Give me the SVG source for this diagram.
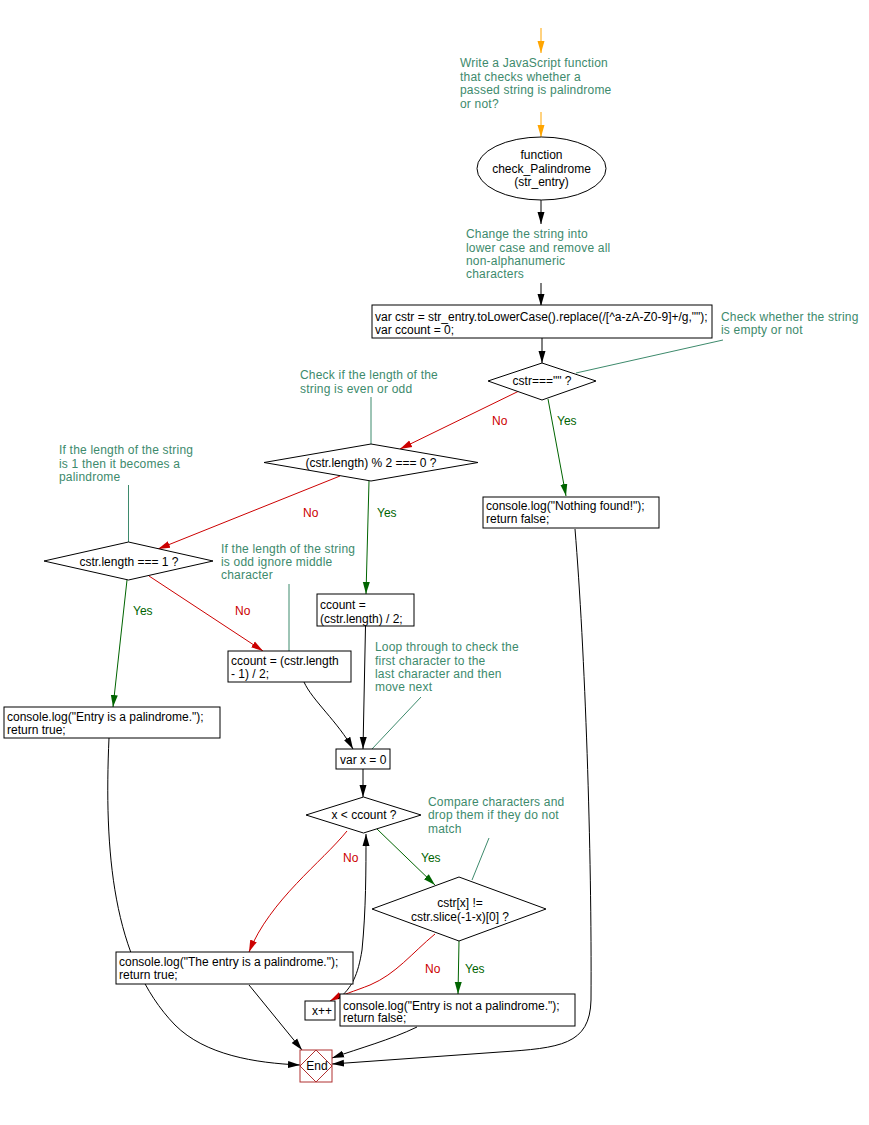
<svg xmlns="http://www.w3.org/2000/svg" width="869" height="1125" viewBox="0 0 869 1125">
<style>
text{font-family:"Liberation Sans",Arial,sans-serif;font-size:12px;fill:#000}
.c{fill:#3d8a6c;letter-spacing:0.2px}
.r{fill:#cc0000}
.g{fill:#006400}
.mid{text-anchor:middle}
.box{fill:#fff;stroke:#000;stroke-width:1}
.cl{fill:none;stroke:#3d8a6c;stroke-width:1}
.bk{fill:none;stroke:#000;stroke-width:1}
.rd{fill:none;stroke:#cc0000;stroke-width:1}
.gr{fill:none;stroke:#006400;stroke-width:1}
.or{fill:none;stroke:#ffa500;stroke-width:1}
</style>
<defs>
<marker id="ab" markerUnits="userSpaceOnUse" markerWidth="12" markerHeight="10" refX="12" refY="5" orient="auto"><path d="M0,1.5 L12,5 L0,8.5 z" fill="#000"/></marker>
<marker id="ar" markerUnits="userSpaceOnUse" markerWidth="12" markerHeight="10" refX="12" refY="5" orient="auto"><path d="M0,1.5 L12,5 L0,8.5 z" fill="#cc0000"/></marker>
<marker id="ag" markerUnits="userSpaceOnUse" markerWidth="12" markerHeight="10" refX="12" refY="5" orient="auto"><path d="M0,1.5 L12,5 L0,8.5 z" fill="#006400"/></marker>
<marker id="ao" markerUnits="userSpaceOnUse" markerWidth="12" markerHeight="10" refX="12" refY="5" orient="auto"><path d="M0,1.5 L12,5 L0,8.5 z" fill="#ffa500"/></marker>
</defs>
<rect width="869" height="1125" fill="#fff"/>

<g id="connectors">
<path class="or" d="M541 28 L541 53" marker-end="url(#ao)"/>
<path class="or" d="M541 112 L541 137" marker-end="url(#ao)"/>
<path class="bk" d="M541 200 L541 224" marker-end="url(#ab)"/>
<path class="bk" d="M541 283 L541 306" marker-end="url(#ab)"/>
<path class="bk" d="M542 338 L542 363" marker-end="url(#ab)"/>
<path class="cl" d="M723 340 L576 373"/>
<path class="rd" d="M519 391 L400 449" marker-end="url(#ar)"/>
<path class="gr" d="M548 399 L566 496" marker-end="url(#ag)"/>
<path class="cl" d="M371 397 L371 444"/>
<path class="rd" d="M340 476 L158 549" marker-end="url(#ar)"/>
<path class="gr" d="M369 481 L366 594" marker-end="url(#ag)"/>
<path class="cl" d="M128.5 485 L128.5 542"/>
<path class="rd" d="M149 576 L263 651" marker-end="url(#ar)"/>
<path class="gr" d="M127 580 L113 707" marker-end="url(#ag)"/>
<path class="cl" d="M289 584 L289 651"/>
<path class="bk" d="M365.5 626 L363 749" marker-end="url(#ab)"/>
<path class="bk" d="M304 682 C 312 700, 338 722, 353 749" marker-end="url(#ab)"/>
<path class="cl" d="M421 697 L372 749"/>
<path class="bk" d="M363 769 L363 797" marker-end="url(#ab)"/>
<path class="gr" d="M377 829 L435 885" marker-end="url(#ag)"/>
<path class="cl" d="M489 838 L472 880"/>
<path class="rd" d="M347 831 C 322 862, 270 900, 249 952" marker-end="url(#ar)"/>
<path class="rd" d="M435 934 C 412 953, 396 974, 370 985 C 355 991, 341 995, 330 1001" marker-end="url(#ar)"/>
<path class="gr" d="M459 941 L458 994" marker-end="url(#ag)"/>
<path class="bk" d="M338 999 C 352 988, 358 975, 362 950 C 366 910, 366 870, 366 834" marker-end="url(#ab)"/>
<path class="bk" d="M109 738 C 104 850, 112 960, 175 1025 C 205 1055, 255 1063, 300 1065" marker-end="url(#ab)"/>
<path class="bk" d="M249 985 L302 1050" marker-end="url(#ab)"/>
<path class="bk" d="M417 1027 C 390 1040, 360 1048, 332 1058" marker-end="url(#ab)"/>
<path class="bk" d="M575 529 C 585 650, 592 850, 591 1000 C 590 1045, 560 1048, 500 1052 L 332 1064" marker-end="url(#ab)"/>
<text class="r" x="492" y="425">No</text>
<text class="g" x="557" y="425">Yes</text>
<text class="r" x="303" y="517">No</text>
<text class="g" x="377" y="517">Yes</text>
<text class="r" x="235" y="615">No</text>
<text class="g" x="133" y="615">Yes</text>
<text class="r" x="343" y="862">No</text>
<text class="g" x="421" y="862">Yes</text>
<text class="r" x="425" y="973">No</text>
<text class="g" x="465" y="973">Yes</text>
</g>

<g id="comment_title">
<text class="c" x="460" y="67">Write a JavaScript function</text>
<text class="c" x="460" y="80.5">that checks whether a</text>
<text class="c" x="460" y="94">passed string is palindrome</text>
<text class="c" x="460" y="107.5">or not?</text>
</g>

<g id="start">
<ellipse cx="541.5" cy="168.5" rx="64.5" ry="31.5" class="box"/>
<text class="mid" x="541.5" y="159">function</text>
<text class="mid" x="541.5" y="172.5">check_Palindrome</text>
<text class="mid" x="541.5" y="186">(str_entry)</text>
</g>

<g id="comment_lower">
<text class="c" x="466" y="238">Change the string into</text>
<text class="c" x="466" y="251.5">lower case and remove all</text>
<text class="c" x="466" y="265">non-alphanumeric</text>
<text class="c" x="466" y="278">characters</text>
</g>

<g id="init">
<rect x="372" y="305" width="340" height="33" class="box"/>
<text x="375" y="321">var cstr = str_entry.toLowerCase().replace(/[^a-zA-Z0-9]+/g,"");</text>
<text x="375" y="334">var ccount = 0;</text>
</g>

<g id="comment_empty">
<text class="c" x="721" y="321">Check whether the string</text>
<text class="c" x="721" y="334">is empty or not</text>
</g>

<g id="d_empty">
<polygon points="542,363 596,381 542,400 488,381" class="box"/>
<text class="mid" x="542" y="385">cstr==="" ?</text>
</g>

<g id="nothing">
<rect x="483" y="497" width="176" height="31" class="box"/>
<text x="486" y="509.5">console.log("Nothing found!");</text>
<text x="486" y="522.5">return false;</text>
</g>

<g id="comment_evenodd">
<text class="c" x="300" y="379">Check if the length of the</text>
<text class="c" x="300" y="393">string is even or odd</text>
</g>

<g id="d_even">
<polygon points="371,444 478,462.5 371,481 264,462.5" class="box"/>
<text class="mid" x="371" y="466.5">(cstr.length) % 2 === 0 ?</text>
</g>

<g id="comment_one">
<text class="c" x="59" y="454">If the length of the string</text>
<text class="c" x="59" y="467.5">is 1 then it becomes a</text>
<text class="c" x="59" y="481">palindrome</text>
</g>

<g id="d_one">
<polygon points="128.5,542 213,561 128.5,580 44,561" class="box"/>
<text class="mid" x="129" y="565.5">cstr.length === 1 ?</text>
</g>

<g id="comment_oddmid">
<text class="c" x="221" y="552.5">If the length of the string</text>
<text class="c" x="221" y="566">is odd ignore middle</text>
<text class="c" x="221" y="579">character</text>
</g>

<g id="ccount_even">
<rect x="317" y="594" width="97" height="32" class="box"/>
<text x="320" y="609">ccount =</text>
<text x="320" y="622.5">(cstr.length) / 2;</text>
</g>

<g id="ccount_odd">
<rect x="228" y="651" width="123" height="31" class="box"/>
<text x="231" y="665">ccount = (cstr.length</text>
<text x="231" y="678">- 1) / 2;</text>
</g>

<g id="entry_pal">
<rect x="4" y="707" width="216" height="31" class="box"/>
<text x="7" y="721">console.log("Entry is a palindrome.");</text>
<text x="7" y="734">return true;</text>
</g>

<g id="comment_loop">
<text class="c" x="375" y="651">Loop through to check the</text>
<text class="c" x="375" y="664.5">first character to the</text>
<text class="c" x="375" y="678">last character and then</text>
<text class="c" x="375" y="691">move next</text>
</g>

<g id="varx">
<rect x="336" y="749" width="54" height="20" class="box"/>
<text x="340" y="763.5">var x = 0</text>
</g>

<g id="d_loop">
<polygon points="363.5,797 421,815 363.5,833 306,815" class="box"/>
<text class="mid" x="364" y="819">x &lt; ccount ?</text>
</g>

<g id="comment_compare">
<text class="c" x="428" y="806">Compare characters and</text>
<text class="c" x="428" y="819">drop them if they do not</text>
<text class="c" x="428" y="832.5">match</text>
</g>

<g id="d_compare">
<polygon points="459,877 546,909 459,941 372,909" class="box"/>
<text class="mid" x="460" y="907">cstr[x] !=</text>
<text class="mid" x="460" y="921">cstr.slice(-1-x)[0] ?</text>
</g>

<g id="the_entry">
<rect x="116" y="952" width="237" height="32" class="box"/>
<text x="119" y="966">console.log("The entry is a palindrome.");</text>
<text x="119" y="979">return true;</text>
</g>

<g id="xinc">
<rect x="305" y="1001" width="30" height="19" class="box"/>
<text x="312" y="1015">x++</text>
</g>

<g id="not_pal">
<rect x="340" y="994" width="235" height="32" class="box"/>
<text x="343" y="1009.5">console.log("Entry is not a palindrome.");</text>
<text x="343" y="1022">return false;</text>
</g>

<g id="end">
<rect x="300" y="1050" width="32" height="32" fill="#fff" stroke="#b03030"/>
<polygon points="316,1050 332,1066 316,1082 300,1066" fill="none" stroke="#b03030"/>
<text class="mid" x="317" y="1070">End</text>
</g>
</svg>
